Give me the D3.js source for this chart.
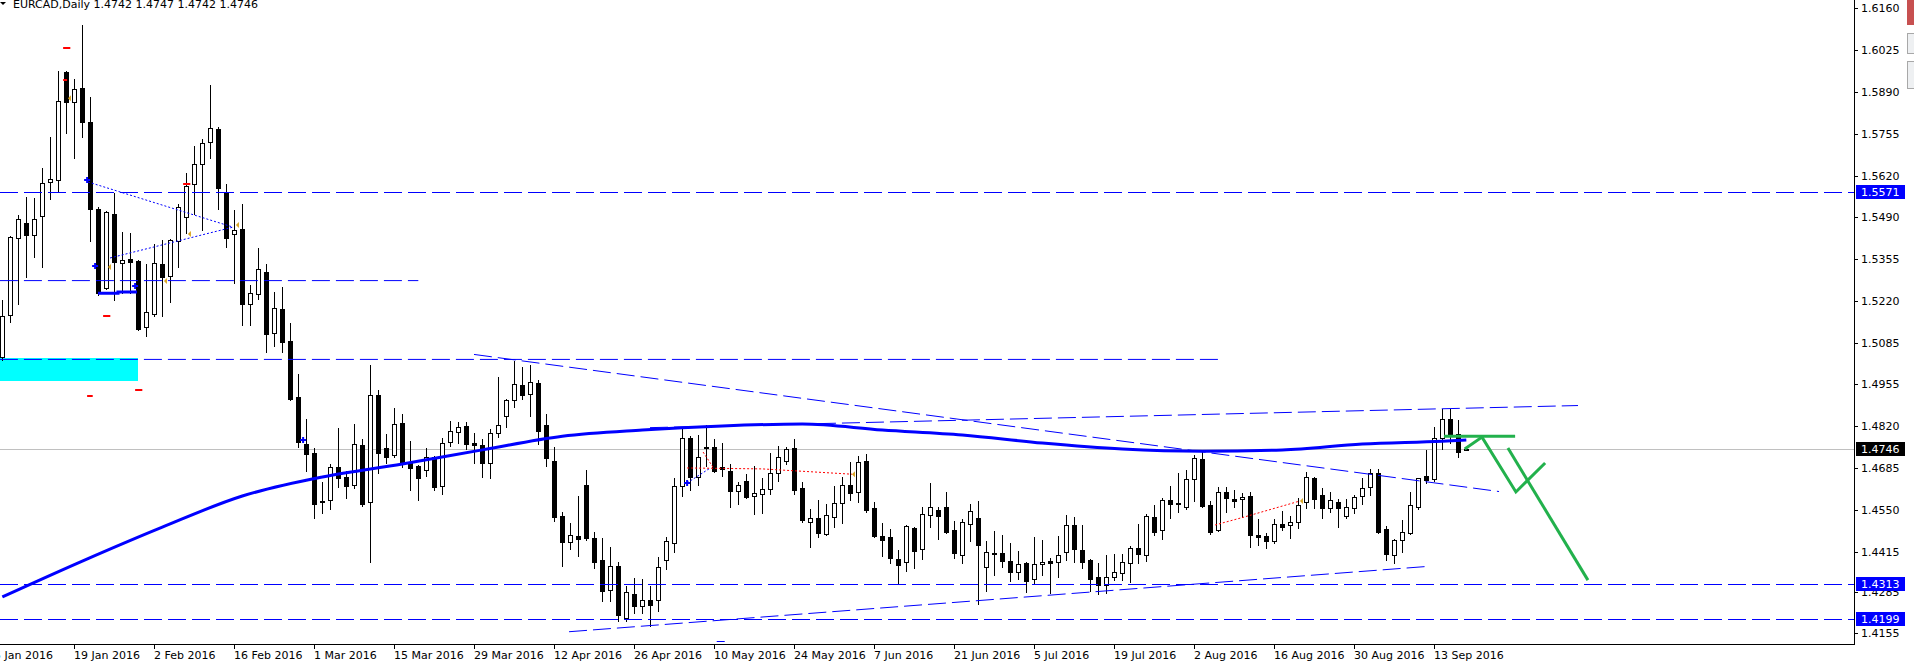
<!DOCTYPE html>
<html>
<head>
<meta charset="utf-8">
<title>EURCAD,Daily</title>
<script src="https://cdn.jsdelivr.net/npm/d3@7"></script>
<style>
  html, body { margin: 0; padding: 0; background: #fff; }
  svg { display: block; }
  text { font-family: "DejaVu Sans", sans-serif; font-size: 11px; }
</style>
</head>
<body>
<div id="chart"></div>
<script>
//-----------------------------DATA-----------------------------//
const titleText = "EURCAD,Daily  1.4742 1.4747 1.4742 1.4746";
const firstBarDate = new Date(2016, 0, 6);
const lastBarDate = new Date(2016, 8, 19);

// daily OHLC, one value per trading day from 6 Jan 2016
const opens = [
  1.5041, 1.5175, 1.5422, 1.5470, 1.5432, 1.5493, 1.5602, 1.5608, 1.5955, 1.5859,
  1.5903, 1.5795, 1.5515, 1.5261, 1.5499, 1.5341, 1.5355, 1.5348, 1.5137, 1.5178,
  1.5338, 1.5300, 1.5413, 1.5490, 1.5595, 1.5659, 1.5731, 1.5772, 1.5570, 1.5435,
  1.5451, 1.5210, 1.5242, 1.5313, 1.5117, 1.5194, 1.5092, 1.4912, 1.4761, 1.4732,
  1.4578, 1.4581, 1.4687, 1.4655, 1.4629, 1.4758, 1.4575, 1.4918, 1.4748, 1.4726,
  1.4828, 1.4703, 1.4690, 1.4677, 1.4720, 1.4626, 1.4768, 1.4800, 1.4819, 1.4763,
  1.4758, 1.4700, 1.4796, 1.4851, 1.4902, 1.4950, 1.4921, 1.4956, 1.4822, 1.4706,
  1.4530, 1.4446, 1.4466, 1.4629, 1.4459, 1.4388, 1.4292, 1.4369, 1.4202, 1.4279,
  1.4241, 1.4260, 1.4260, 1.4388, 1.4442, 1.4626, 1.4780, 1.4655, 1.4748, 1.4752,
  1.4687, 1.4674, 1.4610, 1.4642, 1.4594, 1.4600, 1.4616, 1.4667, 1.4706, 1.4748,
  1.4619, 1.4511, 1.4523, 1.4472, 1.4527, 1.4571, 1.4629, 1.4607, 1.4706, 1.4555,
  1.4466, 1.4462, 1.4391, 1.4382, 1.4491, 1.4423, 1.4533, 1.4549, 1.4559, 1.4485,
  1.4404, 1.4504, 1.4523, 1.4366, 1.4411, 1.4411, 1.4385, 1.4350, 1.4378, 1.4327,
  1.4375, 1.4385, 1.4382, 1.4414, 1.4501, 1.4420, 1.4388, 1.4334, 1.4308, 1.4334,
  1.4346, 1.4378, 1.4427, 1.4404, 1.4527, 1.4485, 1.4581, 1.4571, 1.4559, 1.4648,
  1.4713, 1.4565, 1.4485, 1.4607, 1.4584, 1.4584, 1.4594, 1.4469, 1.4466, 1.4449,
  1.4504, 1.4501, 1.4511, 1.4575, 1.4651, 1.4597, 1.4555, 1.4575, 1.4530, 1.4555,
  1.4594, 1.4623, 1.4668, 1.4488, 1.4404, 1.4452, 1.4475, 1.4559, 1.4658, 1.4648,
  1.4780, 1.4841, 1.4793, 1.4742
];
const highs = [
  1.5223, 1.5430, 1.5496, 1.5554, 1.5550, 1.5646, 1.5747, 1.5958, 1.5958, 1.5932,
  1.6106, 1.5875, 1.5522, 1.5508, 1.5566, 1.5442, 1.5438, 1.5351, 1.5338, 1.5403,
  1.5416, 1.5419, 1.5531, 1.5630, 1.5718, 1.5740, 1.5913, 1.5779, 1.5595, 1.5512,
  1.5531, 1.5271, 1.5390, 1.5338, 1.5249, 1.5265, 1.5149, 1.4985, 1.4841, 1.4748,
  1.4639, 1.4696, 1.4812, 1.4674, 1.4825, 1.4777, 1.5014, 1.4934, 1.4793, 1.4876,
  1.4857, 1.4771, 1.4693, 1.4748, 1.4723, 1.4780, 1.4835, 1.4832, 1.4832, 1.4796,
  1.4777, 1.4809, 1.4976, 1.4905, 1.5027, 1.5008, 1.5014, 1.4966, 1.4857, 1.4752,
  1.4543, 1.4507, 1.4594, 1.4677, 1.4479, 1.4459, 1.4430, 1.4382, 1.4305, 1.4330,
  1.4327, 1.4305, 1.4398, 1.4463, 1.4651, 1.4816, 1.4787, 1.4790, 1.4822, 1.4777,
  1.4764, 1.4696, 1.4639, 1.4664, 1.4690, 1.4651, 1.4732, 1.4755, 1.4752, 1.4777,
  1.4639, 1.4552, 1.4581, 1.4568, 1.4626, 1.4655, 1.4703, 1.4723, 1.4729, 1.4575,
  1.4507, 1.4488, 1.4420, 1.4500, 1.4494, 1.4559, 1.4636, 1.4559, 1.4607, 1.4514,
  1.4520, 1.4568, 1.4578, 1.4449, 1.4481, 1.4469, 1.4443, 1.4417, 1.4382, 1.4462,
  1.4452, 1.4395, 1.4466, 1.4533, 1.4527, 1.4501, 1.4391, 1.4379, 1.4404, 1.4407,
  1.4407, 1.4433, 1.4504, 1.4536, 1.4565, 1.4587, 1.4626, 1.4668, 1.4677, 1.4726,
  1.4735, 1.4578, 1.4623, 1.4623, 1.4613, 1.4603, 1.4607, 1.4520, 1.4475, 1.4520,
  1.4546, 1.4530, 1.4587, 1.4671, 1.4655, 1.4619, 1.4607, 1.4584, 1.4584, 1.4597,
  1.4651, 1.4680, 1.4680, 1.4498, 1.4456, 1.4517, 1.4607, 1.4653, 1.4742, 1.4816,
  1.4873, 1.4873, 1.4838, 1.4747
];
const lows = [
  1.5030, 1.5153, 1.5210, 1.5297, 1.5362, 1.5329, 1.5547, 1.5570, 1.5759, 1.5678,
  1.5747, 1.5413, 1.5239, 1.5258, 1.5223, 1.5245, 1.5245, 1.5127, 1.5108, 1.5172,
  1.5172, 1.5217, 1.5329, 1.5438, 1.5499, 1.5448, 1.5678, 1.5515, 1.5394, 1.5277,
  1.5143, 1.5143, 1.5226, 1.5057, 1.5076, 1.5057, 1.4902, 1.4752, 1.4674, 1.4523,
  1.4539, 1.4552, 1.4623, 1.4587, 1.4619, 1.4562, 1.4382, 1.4667, 1.4699, 1.4720,
  1.4687, 1.4613, 1.4581, 1.4658, 1.4613, 1.4600, 1.4755, 1.4764, 1.4745, 1.4700,
  1.4655, 1.4651, 1.4784, 1.4816, 1.4880, 1.4905, 1.4851, 1.4761, 1.4690, 1.4514,
  1.4369, 1.4423, 1.4401, 1.4452, 1.4362, 1.4257, 1.4257, 1.4193, 1.4193, 1.4218,
  1.4218, 1.4177, 1.4225, 1.4359, 1.4414, 1.4594, 1.4613, 1.4629, 1.4690, 1.4671,
  1.4658, 1.4559, 1.4568, 1.4587, 1.4536, 1.4539, 1.4600, 1.4642, 1.4696, 1.4600,
  1.4511, 1.4430, 1.4462, 1.4470, 1.4495, 1.4507, 1.4581, 1.4575, 1.4543, 1.4462,
  1.4401, 1.4378, 1.4314, 1.4353, 1.4362, 1.4391, 1.4495, 1.4456, 1.4476, 1.4395,
  1.4378, 1.4449, 1.4247, 1.4289, 1.4340, 1.4366, 1.4321, 1.4327, 1.4286, 1.4311,
  1.4340, 1.4283, 1.4334, 1.4388, 1.4382, 1.4362, 1.4289, 1.4279, 1.4283, 1.4324,
  1.4324, 1.4318, 1.4378, 1.4385, 1.4469, 1.4456, 1.4523, 1.4543, 1.4552, 1.4578,
  1.4560, 1.4472, 1.4483, 1.4543, 1.4559, 1.4527, 1.4430, 1.4436, 1.4427, 1.4443,
  1.4485, 1.4459, 1.4491, 1.4555, 1.4555, 1.4523, 1.4543, 1.4495, 1.4523, 1.4539,
  1.4568, 1.4597, 1.4475, 1.4388, 1.4378, 1.4414, 1.4473, 1.4552, 1.4636, 1.4642,
  1.4745, 1.4764, 1.4719, 1.4742
];
const closes = [
  1.5172, 1.5426, 1.5483, 1.5432, 1.5483, 1.5598, 1.5611, 1.5862, 1.5859, 1.5900,
  1.5795, 1.5515, 1.5245, 1.5506, 1.5345, 1.5351, 1.5345, 1.5130, 1.5185, 1.5341,
  1.5297, 1.5416, 1.5522, 1.5589, 1.5659, 1.5727, 1.5775, 1.5582, 1.5422, 1.5448,
  1.5210, 1.5245, 1.5322, 1.5114, 1.5197, 1.5089, 1.4905, 1.4768, 1.4729, 1.4568,
  1.4575, 1.4687, 1.4651, 1.4626, 1.4761, 1.4568, 1.4918, 1.4732, 1.4720, 1.4825,
  1.4703, 1.4683, 1.4651, 1.4720, 1.4623, 1.4764, 1.4803, 1.4816, 1.4761, 1.4759,
  1.4700, 1.4796, 1.4822, 1.4902, 1.4953, 1.4918, 1.4960, 1.4803, 1.4716, 1.4527,
  1.4446, 1.4469, 1.4456, 1.4459, 1.4382, 1.4289, 1.4369, 1.4212, 1.4286, 1.4241,
  1.4260, 1.4244, 1.4366, 1.4449, 1.4626, 1.4780, 1.4655, 1.4720, 1.4752, 1.4674,
  1.4680, 1.4610, 1.4629, 1.4591, 1.4603, 1.4616, 1.4667, 1.4720, 1.4745, 1.4613,
  1.4517, 1.4523, 1.4475, 1.4533, 1.4571, 1.4629, 1.4603, 1.4703, 1.4549, 1.4466,
  1.4452, 1.4394, 1.4372, 1.4498, 1.4417, 1.4536, 1.4559, 1.4530, 1.4478, 1.4411,
  1.4511, 1.4546, 1.4436, 1.4414, 1.4408, 1.4385, 1.4350, 1.4375, 1.4321, 1.4375,
  1.4382, 1.4378, 1.4404, 1.4501, 1.4423, 1.4382, 1.4327, 1.4308, 1.4334, 1.4350,
  1.4382, 1.4427, 1.4408, 1.4530, 1.4478, 1.4581, 1.4568, 1.4569, 1.4648, 1.4716,
  1.4562, 1.4478, 1.4607, 1.4587, 1.4578, 1.4591, 1.4469, 1.4462, 1.4449, 1.4504,
  1.4495, 1.4511, 1.4565, 1.4655, 1.4584, 1.4555, 1.4581, 1.4555, 1.4559, 1.4591,
  1.4619, 1.4668, 1.4478, 1.4408, 1.4452, 1.4478, 1.4565, 1.4651, 1.4645, 1.4780,
  1.4841, 1.4790, 1.4735, 1.4746
];

// moving average read every 10 bars
const maBars = [0, 10, 20, 30, 40, 50, 60, 70, 80, 90, 100, 110, 120, 130, 140, 150, 160, 170, 180, 183];
const maValues = [1.4270, 1.4385, 1.4494, 1.4594, 1.4655, 1.4697, 1.4742, 1.4786, 1.4806, 1.4819,
  1.4825, 1.4806, 1.4790, 1.4764, 1.4745, 1.4738, 1.4742, 1.4761, 1.4770, 1.4774];

const yTickLabels = ["1.6160", "1.6025", "1.5890", "1.5755", "1.5620", "1.5490", "1.5355", "1.5220",
  "1.5085", "1.4955", "1.4820", "1.4685", "1.4550", "1.4415", "1.4285", "1.4155"];
const xTickLabels = ["5 Jan 2016", "19 Jan 2016", "2 Feb 2016", "16 Feb 2016", "1 Mar 2016", "15 Mar 2016",
  "29 Mar 2016", "12 Apr 2016", "26 Apr 2016", "10 May 2016", "24 May 2016", "7 Jun 2016", "21 Jun 2016",
  "5 Jul 2016", "19 Jul 2016", "2 Aug 2016", "16 Aug 2016", "30 Aug 2016", "13 Sep 2016"];

// horizontal price levels with a tag on the price axis
const levelPrices = [1.5571, 1.4313, 1.4199];
const bidPrice = 1.4746;

// chart objects: [barFrom, priceFrom, barTo, priceTo]
const dashedLines = [
  [-0.3, 1.5287, 52.0, 1.5287],
  [-0.3, 1.5034, 152.7, 1.5034],
  [80.96, 1.4815, 196.96, 1.4886],
  [58.96, 1.5050, 187.09, 1.4610],
  [70.84, 1.4160, 177.84, 1.4369]
];
const blueDotted = [
  [[10.71, 1.5602], [28.84, 1.5457]],
  [[13.46, 1.5358], [28.84, 1.5457]],
  [[85.6, 1.4636], [88.5, 1.4684]]
];
const redDotted = [
  [[85.6, 1.4684], [95.0, 1.4681], [106.2, 1.4664]],
  [[87.6, 1.4735], [88.9, 1.4684]],
  [[151.6, 1.4501], [155.3, 1.4527], [162.2, 1.4578]]
];
const blueThick = [[11.96, 1.5245], [14.46, 1.5245], [14.46, 1.5249], [16.84, 1.5249]];
const cyanZone = [-0.3, 1.5037, 16.96, 1.4963];
const redDashes = [[7.6, 8.5, 1.6032], [12.6, 13.5, 1.5172], [16.6, 17.5, 1.4934], [10.6, 11.3, 1.4915],
  [22.6, 23.5, 1.5595], [7.6, 8.1, 1.5929]];
const blueDashes = [[89.3, 90.3, 1.4128]];
const orangeMarks = [[8.2, 1.5871], [13.2, 1.5329], [20.2, 1.5284], [23.2, 1.5435], [29.2, 1.5464],
  [106.2, 1.4664], [162.2, 1.4578]];
const blueMarks = [[10.6, 1.5608], [11.6, 1.5332], [16.6, 1.5268], [37.6, 1.4774], [85.6, 1.4636]];
const greenDrawing = [
  [[180.2, 1.4786], [189.1, 1.4786]],
  [[182.8, 1.4745], [184.96, 1.4783], [189.2, 1.4607], [192.85, 1.4700]],
  [[188.2, 1.4748], [198.2, 1.4324]]
];

//------------------------1. PREPARATION------------------------//
const width = 1914;
const height = 668;
const plotRight = 1854;
const plotBottom = 644;
const barStep = 8;

const svg = d3.select("#chart").append("svg")
  .attr("width", width)
  .attr("height", height)
  .attr("viewBox", "0 0 " + width + " " + height);

svg.append("rect")
  .attr("width", width)
  .attr("height", height)
  .attr("fill", "#fff");

const isWeekday = d => d.getDay() !== 0 && d.getDay() !== 6;
const barDates = d3.timeDay.range(firstBarDate, d3.timeDay.offset(lastBarDate, 1)).filter(isWeekday);
const bars = barDates.map((date, i) => {
  return {date: date, i: i, o: opens[i], h: highs[i], l: lows[i], c: closes[i]};
});

// bar number of any date, counted in trading days from the first bar
function tradingIndex(date) {
  if (date >= firstBarDate) return d3.timeDay.range(firstBarDate, date).filter(isWeekday).length;
  return -d3.timeDay.range(date, firstBarDate).filter(isWeekday).length;
}

//----------------------------SCALES----------------------------//
const firstVisible = -0.29;
const xScale = d3.scaleLinear()
  .domain([firstVisible, firstVisible + plotRight / barStep])
  .range([0, plotRight]);
const yScale = d3.scaleLinear()
  .domain([1.4119, 1.6186])
  .range([plotBottom, 0]);

const px = i => Math.round(xScale(i));
const py = p => Math.round(yScale(p));

svg.append("clipPath").attr("id", "plot-clip")
  .append("rect")
  .attr("width", plotRight)
  .attr("height", plotBottom);

const plot = svg.append("g").attr("clip-path", "url(#plot-clip)");

//-------------------------2. DRAWING---------------------------//
//--------------------------BACK LAYER--------------------------//
plot.append("rect")
  .attr("x", xScale(cyanZone[0]))
  .attr("y", py(cyanZone[1]))
  .attr("width", xScale(cyanZone[2]) - xScale(cyanZone[0]))
  .attr("height", py(cyanZone[3]) - py(cyanZone[1]))
  .attr("fill", "#00ffff");

plot.append("line")
  .attr("x1", 0).attr("x2", plotRight)
  .attr("y1", py(bidPrice) + 0.5).attr("y2", py(bidPrice) + 0.5)
  .attr("stroke", "#c0c0c0");

//---------------------------CANDLES----------------------------//
const candles = plot.append("g")
  .attr("shape-rendering", "crispEdges")
  .selectAll("g")
  .data(bars)
  .join("g");

candles.append("line")
  .attr("x1", d => px(d.i) + 0.5)
  .attr("x2", d => px(d.i) + 0.5)
  .attr("y1", d => py(d.h))
  .attr("y2", d => py(d.l) + 1)
  .attr("stroke", "#000");

candles.append("rect")
  .attr("x", d => d.c > d.o ? px(d.i) - 1.5 : px(d.i) - 2)
  .attr("y", d => d.c > d.o ? py(d.c) + 0.5 : py(d.o))
  .attr("width", d => d.c > d.o ? 4 : 5)
  .attr("height", d => d.c > d.o ? Math.max(py(d.o) - py(d.c), 0) : Math.max(py(d.c) - py(d.o), 0) + 1)
  .attr("fill", d => d.c > d.o ? "#fff" : "#000")
  .attr("stroke", d => d.c > d.o ? "#000" : "none");

//------------------------MOVING AVERAGE------------------------//
const maLine = d3.line()
  .x(d => xScale(d[0]))
  .y(d => yScale(d[1]))
  .curve(d3.curveMonotoneX);

plot.append("path")
  .attr("d", maLine(maBars.map((b, k) => [b, maValues[k]])))
  .attr("fill", "none")
  .attr("stroke", "#0000ff")
  .attr("stroke-width", 3);

const pathLine = d3.line()
  .x(d => xScale(d[0]))
  .y(d => yScale(d[1]));

plot.append("path")
  .attr("d", pathLine(blueThick))
  .attr("fill", "none")
  .attr("stroke", "#0000ff")
  .attr("stroke-width", 3);

//---------------------------OBJECTS----------------------------//
levelPrices.forEach(p => {
  plot.append("line")
    .attr("x1", 0).attr("x2", plotRight)
    .attr("y1", py(p) + 0.5).attr("y2", py(p) + 0.5)
    .attr("stroke", "#0000ff")
    .attr("stroke-dasharray", "18,6");
});

dashedLines.forEach(l => {
  plot.append("line")
    .attr("x1", xScale(l[0])).attr("y1", yScale(l[1]) + 0.5)
    .attr("x2", xScale(l[2])).attr("y2", yScale(l[3]) + 0.5)
    .attr("stroke", "#0000ff")
    .attr("stroke-dasharray", "18,6");
});

blueDotted.forEach(pts => {
  plot.append("path")
    .attr("d", pathLine(pts))
    .attr("fill", "none")
    .attr("stroke", "#0000ff")
    .attr("stroke-dasharray", "2,2");
});

redDotted.forEach(pts => {
  plot.append("path")
    .attr("d", pathLine(pts))
    .attr("fill", "none")
    .attr("stroke", "#ff0000")
    .attr("stroke-dasharray", "2,2");
});

redDashes.forEach(d => {
  plot.append("line")
    .attr("x1", xScale(d[0])).attr("x2", xScale(d[1]))
    .attr("y1", py(d[2])).attr("y2", py(d[2]))
    .attr("stroke", "#ff0000")
    .attr("stroke-width", 2);
});

blueDashes.forEach(d => {
  plot.append("line")
    .attr("x1", xScale(d[0])).attr("x2", xScale(d[1]))
    .attr("y1", py(d[2]) + 0.5).attr("y2", py(d[2]) + 0.5)
    .attr("stroke", "#0000ff");
});

plot.selectAll(".orange-mark")
  .data(orangeMarks)
  .join("path")
  .attr("class", "orange-mark")
  .attr("d", d => {
    const x = xScale(d[0]), y = yScale(d[1]);
    return "M" + x + "," + y + "L" + (x + 3) + "," + (y - 3) + "L" + (x + 3) + "," + (y + 3) + "Z";
  })
  .attr("fill", "#daa520");

plot.selectAll(".blue-mark")
  .data(blueMarks)
  .join("path")
  .attr("class", "blue-mark")
  .attr("d", d => {
    const x = xScale(d[0]), y = yScale(d[1]);
    return "M" + (x - 3) + "," + y + "H" + (x + 3) + "M" + x + "," + (y - 3) + "V" + (y + 3);
  })
  .attr("stroke", "#0000ff")
  .attr("stroke-width", 2);

greenDrawing.forEach(pts => {
  plot.append("path")
    .attr("d", pathLine(pts))
    .attr("fill", "none")
    .attr("stroke", "#22b14c")
    .attr("stroke-width", 3);
});

//-----------------------------AXES-----------------------------//
const axes = svg.append("g").attr("shape-rendering", "crispEdges");

axes.append("line")
  .attr("x1", plotRight + 0.5).attr("x2", plotRight + 0.5)
  .attr("y1", 0).attr("y2", plotBottom + 1)
  .attr("stroke", "#000");
axes.append("line")
  .attr("x1", 0).attr("x2", plotRight + 1)
  .attr("y1", plotBottom + 0.5).attr("y2", plotBottom + 0.5)
  .attr("stroke", "#000");

// price axis
yTickLabels.forEach(t => {
  const y = py(+t);
  axes.append("line")
    .attr("x1", plotRight).attr("x2", plotRight + 4)
    .attr("y1", y + 0.5).attr("y2", y + 0.5)
    .attr("stroke", "#000");
  axes.append("text")
    .attr("x", plotRight + 7)
    .attr("y", y + 4)
    .attr("fill", "#000")
    .text(t);
});

// time axis
const parseLabel = d3.timeParse("%d %b %Y");
xTickLabels.forEach(t => {
  const x = px(tradingIndex(parseLabel(t)));
  axes.append("line")
    .attr("x1", x + 0.5).attr("x2", x + 0.5)
    .attr("y1", plotBottom).attr("y2", plotBottom + 5)
    .attr("stroke", "#000");
  axes.append("text")
    .attr("x", x)
    .attr("y", plotBottom + 15)
    .attr("fill", "#000")
    .text(t);
});

// price tags
const priceTags = levelPrices.map(p => ({p: p, fill: "#0000ff"}))
  .concat([{p: bidPrice, fill: "#000"}]);
priceTags.forEach(d => {
  const y = py(d.p);
  axes.append("rect")
    .attr("x", plotRight + 2)
    .attr("y", y - 7)
    .attr("width", 49)
    .attr("height", 14)
    .attr("fill", d.fill);
  axes.append("text")
    .attr("x", plotRight + 7)
    .attr("y", y + 4)
    .attr("fill", "#fff")
    .text(d.p.toFixed(4));
});

//----------------------------TITLE-----------------------------//
svg.append("path")
  .attr("d", "M0,2H6L3,5Z")
  .attr("fill", "#000");
svg.append("text")
  .attr("x", 13)
  .attr("y", 8)
  .attr("fill", "#000")
  .text(titleText);

// window buttons cut off at the right edge of the screenshot
svg.append("rect").attr("x", 1907).attr("y", 0).attr("width", 7).attr("height", 25).attr("fill", "#c75050");
svg.append("rect").attr("x", 1907.5).attr("y", 33.5).attr("width", 7).attr("height", 20)
  .attr("fill", "#eef0f2").attr("stroke", "#a8a8a8");
svg.append("rect").attr("x", 1907.5).attr("y", 61.5).attr("width", 7).attr("height", 27)
  .attr("fill", "#eef0f2").attr("stroke", "#a8a8a8");
</script>
</body>
</html>
